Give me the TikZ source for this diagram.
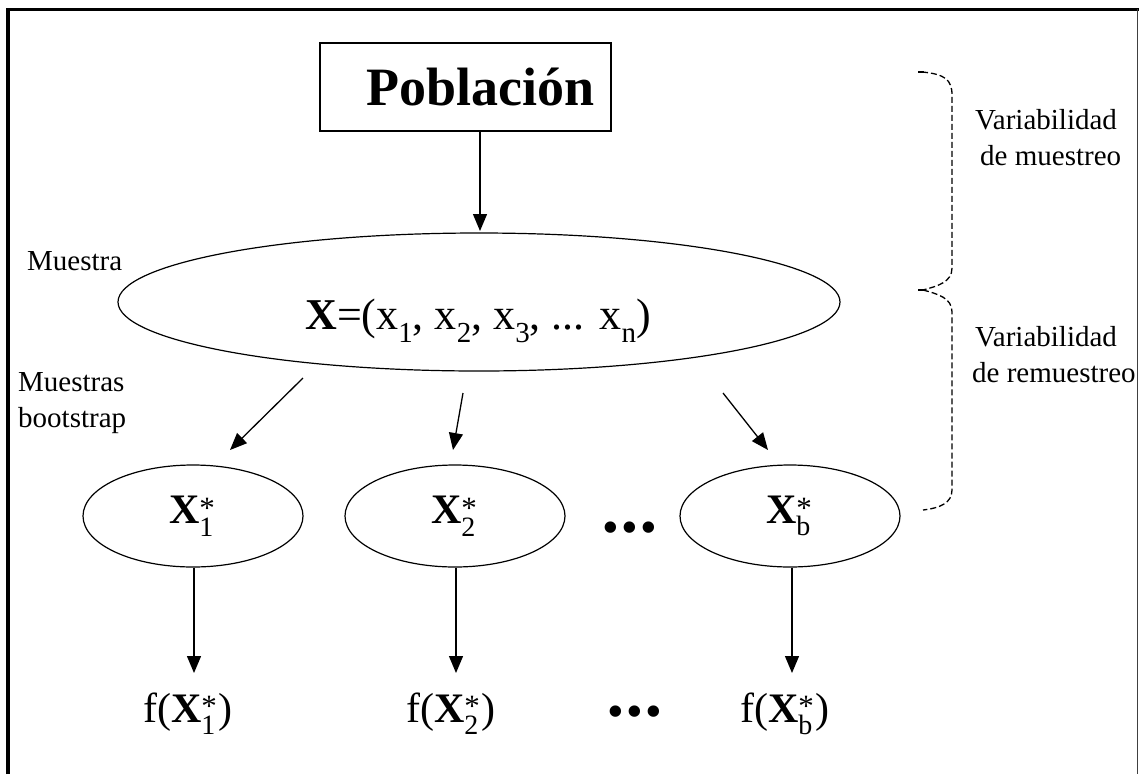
\documentclass[tikz,border=0pt]{standalone}
\usepackage{fontspec}
\setmainfont{Liberation Serif}
\usetikzlibrary{shapes.geometric,arrows.meta}
\newcommand\Xst[1]{\textbf{X}\makebox[0pt][l]{\raisebox{0.12em}{\fontsize{31}{31}\selectfont *}}\makebox[0.42em][l]{\raisebox{-0.3em}{\fontsize{28}{28}\selectfont #1}}}
\newcommand\subx[1]{\raisebox{-0.3em}{\fontsize{29}{29}\selectfont #1}}
\tikzset{
  conn/.style={line width=1.3pt,-{Triangle[length=17pt,width=14pt]}},
  oval/.style={draw,ellipse,line width=1.2pt,inner sep=0pt},
  lbl/.style={font=\fontsize{29}{36}\selectfont,inner sep=0pt,align=left},
  brace/.style={line width=1.3pt,dash pattern=on 6pt off 3pt},
}
\begin{document}
\begin{tikzpicture}[x=1pt,y=-1pt]
\useasboundingbox (0,0) rectangle (1139,774);
% frame
\draw[line width=4pt] (8,774) -- (8,9);
\draw[line width=3pt] (6,9) -- (1139,9);
\draw[line width=1.5pt,black!75] (1137.5,9) -- (1137.5,774);
% population box
\node[draw,line width=1.3pt,minimum width=291pt,minimum height=88pt,inner sep=0pt,
      font=\fontsize{54}{54}\selectfont\bfseries] (pob) at (465.5,87) {\hspace*{30pt}Población};
% big ellipse
\node[oval,minimum width=722pt,minimum height=138pt] (big) at (479,302) {};
\node[anchor=base,inner sep=0pt,font=\fontsize{44}{44}\selectfont] (bigtxt) at (478,329)
  {\textbf{X}=(x\subx{1}, x\subx{2}, x\subx{3}, ... x\subx{n})};
\node[lbl,anchor=base west] (muestra) at (27,270) {Muestra};
\node[lbl,anchor=base west] (mboot) at (18,427) {Muestras\\bootstrap};
% small ellipses
\tikzset{sm/.style={oval,minimum width=220pt,minimum height=102pt,font=\fontsize{42}{42}\selectfont}}
\node[sm] (e1) at (193,516) {\Xst{1}};
\node[sm] (e2) at (455,516) {\Xst{2}};
\node[sm] (e3) at (790,516) {\Xst{b}};
\node[anchor=base,inner sep=0pt,font=\fontsize{42}{42}\selectfont\bfseries] (d1) at (630,541) {•\hspace{4pt}•\hspace{4pt}•};
% results
\tikzset{res/.style={anchor=base,inner sep=0pt,font=\fontsize{42}{42}\selectfont}}
\node[res] (f1) at (188,722) {f(\Xst{1})};
\node[res] (f2) at (451,722) {f(\Xst{2})};
\node[res,font=\fontsize{42}{42}\selectfont\bfseries] (d2) at (635,725) {•\hspace{4pt}•\hspace{4pt}•};
\node[res] (f3) at (785,722) {f(\Xst{b})};
% connectors
\coordinate (pobout) at (480,131);
\coordinate (bigin) at (480,231);
\draw[conn] (pobout) -- (bigin);
\coordinate (s1) at (303,378); \coordinate (t1) at (230,450);
\coordinate (s2) at (463,393); \coordinate (t2) at (453,450);
\coordinate (s3) at (723,393); \coordinate (t3) at (768,450);
\draw[conn] (s1) -- (t1);
\draw[conn] (s2) -- (t2);
\draw[conn] (s3) -- (t3);
\coordinate (u1) at (194,673); \coordinate (u2) at (456,673); \coordinate (u3) at (792,673);
\draw[conn] (e1.south -| u1) -- (u1);
\draw[conn] (e2.south -| u2) -- (u2);
\draw[conn] (e3.south -| u3) -- (u3);
% braces
\draw[brace] (922,72) .. controls (945,74) and (952,80) .. (952,95) -- (952,268)
  .. controls (952,282) and (938,286) .. (923,290);
\draw[brace] (923,290) .. controls (938,294) and (952,298) .. (952,312) -- (952,490)
  .. controls (952,503) and (940,508) .. (923,510);
\draw[line width=2.5pt] (918,72) -- (924,72);
\draw[line width=2.5pt] (918,290) -- (925,290);
\node[lbl,anchor=base west] (vm) at (975,165) {Variabilidad\\\hspace*{5pt}de muestreo};
\node[lbl,anchor=base west] (vr) at (972,382) {\hspace*{3pt}Variabilidad\\de remuestreo};
\end{tikzpicture}
\end{document}
